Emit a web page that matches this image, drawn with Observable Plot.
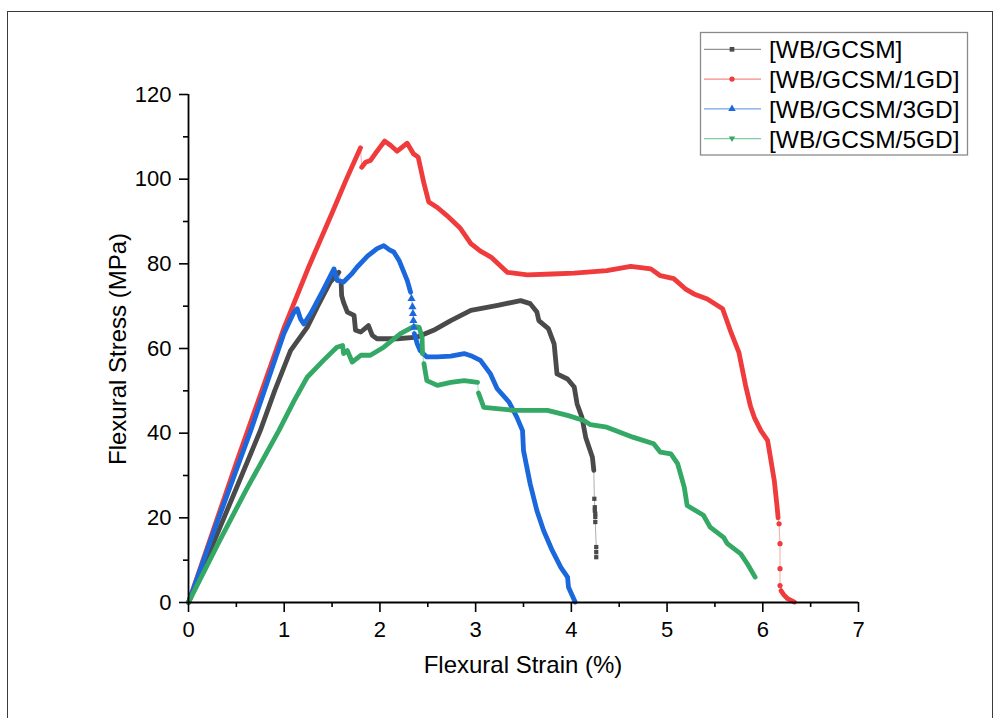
<!DOCTYPE html>
<html><head><meta charset="utf-8">
<script src="https://cdn.jsdelivr.net/npm/d3@7"></script>
<script src="https://cdn.jsdelivr.net/npm/@observablehq/plot@0.6"></script>
<style>
body{margin:0;background:#fff}
#wrap{position:relative;width:996px;height:718px;overflow:hidden;font-family:"Liberation Sans",Arial,sans-serif;background:#fff}
#frame{position:absolute;left:7px;top:11px;width:986px;height:730px;border:1.5px solid #3a3a3a;box-sizing:border-box;pointer-events:none}
#chart{position:absolute;left:0;top:0}
</style></head>
<body><div id="wrap"><div id="chart"></div><div id="frame"></div></div>
<script>
// ---- data (strain %, stress MPa) ----
const seriesNames = ["[WB/GCSM]", "[WB/GCSM/1GD]", "[WB/GCSM/3GD]", "[WB/GCSM/5GD]"];
const strainTicks = [0,1,2,3,4,5,6,7];
const strainMinor = [0.5,1.5,2.5,3.5,4.5,5.5,6.5];
const stressTicks = [0,20,40,60,80,100,120];
const stressMinor = [10,30,50,70,90,110];

// [WB/GCSM]
const blackA = [[0,0],[0.25,13.5],[0.5,27],[0.75,40.6],[0.9,50],[1.066,59.5],[1.24,65.0],[1.35,70],[1.48,75.7],[1.57,78.0]];
const blackB = [[1.595,75.3],[1.6,72.5],[1.62,70.9],[1.66,68.6],[1.73,67.8],[1.745,64.3],[1.80,63.9],[1.88,65.4],[1.92,63.1],[1.97,62.3],[2.18,62.3],[2.39,62.7],[2.56,64.3],[2.74,66.6],[2.95,69.0],[3.23,70.2],[3.47,71.3],[3.57,70.6],[3.64,68.6],[3.66,66.6],[3.76,64.7],[3.82,61.1],[3.85,54.0],[3.96,52.8],[4.03,50.9],[4.06,46.9],[4.11,43.8],[4.15,39.0],[4.22,34.3],[4.235,31.2]];
const blackTail = [[4.24,24.5],[4.245,22.5],[4.245,21.7],[4.25,21.0],[4.25,20.2],[4.25,19.0],[4.26,13.1],[4.26,11.9],[4.26,10.7]];

// [WB/GCSM/1GD]
const redA = [[0,0],[0.5,33],[1.0,65],[1.26,79.5],[1.5,92],[1.65,100],[1.797,107.4]];
const redB = [[1.81,102.8],[1.85,104],[1.90,104.4],[1.95,106],[2.0,107.5],[2.05,109],[2.11,108],[2.18,106.6],[2.23,107.5],[2.285,108.5],[2.35,106],[2.40,105.2],[2.46,99],[2.51,94.6],[2.60,93.3],[2.70,91.4],[2.84,88.4],[2.95,84.8],[3.05,83],[3.16,81.6],[3.33,78.0],[3.54,77.4],[3.8,77.6],[4.03,77.8],[4.37,78.4],[4.62,79.4],[4.83,78.8],[4.93,77.2],[5.07,76.5],[5.19,74.1],[5.28,72.9],[5.42,71.7],[5.58,69.4],[5.66,64.3],[5.75,59.1],[5.82,51.3],[5.87,46.5],[5.91,43.8],[5.98,40.6],[6.05,38.3],[6.08,34.3],[6.12,28.8],[6.15,22.5],[6.16,20]];
const redDrop = [[6.17,18.6],[6.18,13.9],[6.18,8.0],[6.18,4.0]];
const redTail = [[6.19,2.8],[6.22,1.8],[6.26,0.9],[6.33,0.1]];

// [WB/GCSM/3GD]
const blueA = [[0,0],[0.3,19],[0.65,40.6],[0.996,63.5],[1.10,68.5],[1.136,69.4],[1.17,67],[1.205,65.8],[1.275,68.2],[1.4,73.5],[1.52,78.8],[1.553,76.1],[1.62,75.7],[1.7,77.5],[1.76,79.2],[1.87,81.8],[1.97,83.6],[2.04,84.3],[2.10,83.3],[2.145,82.8],[2.20,80.8],[2.285,76.1],[2.32,73.3]];
const blueDrop = [[2.33,71.8],[2.34,69.8],[2.345,68.2],[2.35,66.6],[2.355,65.0]];
const blueB = [[2.36,63.5],[2.39,61.1],[2.42,59.5],[2.49,58.0],[2.6,58.0],[2.74,58.2],[2.88,58.8],[2.95,58.3],[3.05,57.2],[3.155,54.0],[3.225,50.5],[3.35,47.3],[3.43,43.8],[3.49,40.6],[3.50,35.9],[3.57,28.0],[3.64,21.7],[3.71,17.0],[3.80,12.3],[3.89,8.3],[3.96,6.0],[3.97,3.6],[4.04,0.1]];

// [WB/GCSM/5GD]
const greenA = [[0,0],[0.3,13.5],[0.6,26.5],[0.944,40.6],[1.1,47.5],[1.24,53.2],[1.41,57.2],[1.55,60.3],[1.61,60.7],[1.62,58.8],[1.66,59.5],[1.71,56.8],[1.80,58.4],[1.90,58.4],[2.04,60.3],[2.215,63.5],[2.355,65.2],[2.41,65.0],[2.44,62.7],[2.445,58.8]];
const greenB = [[2.46,56.4],[2.49,52.4],[2.60,51.3],[2.74,52.0],[2.88,52.4],[3.02,52.0]];
const greenC = [[3.03,49.5],[3.085,46.1],[3.40,45.4],[3.61,45.4],[3.75,45.4],[3.96,44.2],[4.13,43.0],[4.20,42.0],[4.37,41.4],[4.65,39.0],[4.86,37.5],[4.93,35.5],[5.04,35.1],[5.11,32.8],[5.18,27.2],[5.21,22.9],[5.38,20.6],[5.45,17.8],[5.59,15.4],[5.63,13.9],[5.77,11.5],[5.84,9.1],[5.92,6.0]];

// ---- styles ----
const colors = ["#4a4a4a", "#ef3b3b", "#1a68dc", "#34a865"];

// ---- build tables ----
const pts = (arr, s, seg) => arr.map(([x, y]) => ({x, y, s, seg}));
const N = seriesNames;
const denseSegs = [
  ...pts(blackA, N[0], "k1"), ...pts(blackB, N[0], "k2"),
  ...pts(redA, N[1], "r1"), ...pts(redB, N[1], "r2"), ...pts(redTail, N[1], "r3"),
  ...pts(blueA, N[2], "b1"), ...pts(blueB, N[2], "b2"),
  ...pts(greenA, N[3], "g1"), ...pts(greenB, N[3], "g2"), ...pts(greenC, N[3], "g3")
];
const fullLines = [
  ...pts([...blackA, ...blackB, ...blackTail], N[0]),
  ...pts([...redA, ...redB, ...redDrop, ...redTail], N[1]),
  ...pts([...blueA, ...blueDrop, ...blueB], N[2]),
  ...pts([...greenA, ...greenB, ...greenC], N[3])
];

const fontFam = '"Liberation Sans", Arial, sans-serif';
const chart = Plot.plot({
  width: 996, height: 718,
  marginLeft: 188, marginRight: 138, marginTop: 94, marginBottom: 116,
  style: {fontFamily: fontFam, fontSize: "22px", color: "#000", background: "transparent"},
  x: {domain: [0, 7], label: null},
  y: {domain: [0, 120], label: null},
  color: {domain: seriesNames, range: colors},
  marks: [
    Plot.line(fullLines, {x: "x", y: "y", z: "s", stroke: "s", strokeWidth: 1, strokeOpacity: 0.45}),
    Plot.line(denseSegs, {x: "x", y: "y", z: "seg", stroke: "s", strokeWidth: 4.8, strokeLinejoin: "round", strokeLinecap: "round"}),
    Plot.dot(pts(blackTail, N[0]), {x: "x", y: "y", symbol: "square", r: 2.4, fill: colors[0], stroke: "none"}),
    Plot.dot(pts(redDrop, N[1]), {x: "x", y: "y", symbol: "circle", r: 2.6, fill: colors[1], stroke: "none"}),
    Plot.dot(pts(blueDrop, N[2]), {x: "x", y: "y", symbol: "triangle", r: 3, fill: colors[2], stroke: "none"}),
    Plot.axisX(strainTicks, {tickSize: 10, tickPadding: 9, strokeWidth: 1.6, fontSize: 22}),
    Plot.axisX(strainMinor, {tickSize: 5, tickFormat: () => "", strokeWidth: 1.6}),
    Plot.axisY(stressTicks, {tickSize: 9, tickPadding: 8, strokeWidth: 1.6, fontSize: 22}),
    Plot.axisY(stressMinor, {tickSize: 5, tickFormat: () => "", strokeWidth: 1.6}),
    Plot.ruleY([0], {stroke: "#000", strokeWidth: 1.8}),
    Plot.ruleX([0], {stroke: "#000", strokeWidth: 1.8})
  ]
});
document.getElementById("chart").appendChild(chart);

const svg = d3.select(chart);
// axis titles
svg.append("text").attr("x", 523).attr("y", 673).attr("text-anchor", "middle")
  .attr("font-size", 24).attr("font-family", fontFam).attr("fill", "#000").text("Flexural Strain (%)");
svg.append("text").attr("transform", "translate(126,349) rotate(-90)").attr("text-anchor", "middle")
  .attr("font-size", 24).attr("font-family", fontFam).attr("fill", "#000").text("Flexural Stress (MPa)");

// legend
const lg = svg.append("g").attr("text-anchor", "start");
lg.append("rect").attr("x", 700.5).attr("y", 32.5).attr("width", 267).attr("height", 122.5)
  .attr("fill", "#fff").attr("stroke", "#8a8a8a").attr("stroke-width", 1.3);
const shapes = [
  d3.symbol(d3.symbolSquare, 22)(),
  d3.symbol(d3.symbolCircle, 22)(),
  d3.symbol(d3.symbolTriangle, 24)(),
  "M-3.2,-2.2L3.2,-2.2L0,3.4Z"
];
seriesNames.forEach((name, i) => {
  const cy = 49.3 + 29.8 * i;
  lg.append("line").attr("x1", 704).attr("x2", 761).attr("y1", cy).attr("y2", cy)
    .attr("stroke", colors[i]).attr("stroke-opacity", 0.6).attr("stroke-width", 1.2);
  lg.append("path").attr("d", shapes[i]).attr("transform", `translate(732,${cy})`).attr("fill", colors[i]);
  lg.append("text").attr("x", 769).attr("y", cy).attr("dy", "0.36em").attr("text-anchor", "start")
    .attr("font-size", 24.5).attr("font-family", fontFam).attr("fill", "#000").text(name);
});
</script></body></html>
